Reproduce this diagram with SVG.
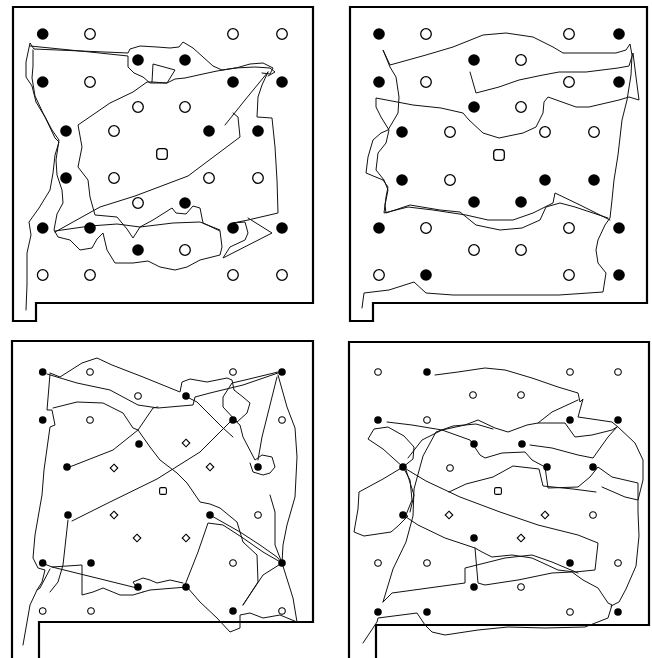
<svg xmlns="http://www.w3.org/2000/svg" xmlns:xlink="http://www.w3.org/1999/xlink" width="652" height="658" viewBox="0 0 652 658">
<style>
.frame{fill:none;stroke:#000;stroke-width:2.2;stroke-linejoin:miter}
.trace{fill:none;stroke:#111;stroke-width:1;stroke-linejoin:round;stroke-linecap:round}
.bf{fill:#000}
.bo{fill:#fff;stroke:#000;stroke-width:1.3}
.sf{fill:#000}
.so{fill:#fff;stroke:#000;stroke-width:1.1}
</style>
<defs>
<circle id="F" class="bf" r="5.8"/>
<circle id="O" class="bo" r="5.3"/>
<rect id="Q" class="bo" x="-5.3" y="-5.3" width="10.6" height="10.6" rx="3"/>
<circle id="f" class="sf" r="3.8"/>
<circle id="o" class="so" r="3.3"/>
<rect id="q" class="so" x="-3.4" y="-3.4" width="6.8" height="6.8" rx="1.5"/>
<path id="d" class="so" d="M0,-3.8 L3.8,0 L0,3.8 L-3.8,0 Z"/>
</defs>
<rect width="652" height="658" fill="#fff"/>

<!-- Panel 1 -->
<g id="panel1">
<path class="frame" d="M13,7 L313,7 L313,303 L36,303 L36,321 L13,321 Z"/>
<g id="p1-traces">
<path class="trace" d="M26,310 L27,285 L27,253 L31,235 L29,222 L39,208 L50,190 L53,173 L55,155 L59,142 L55,138 L45,117 L36,102 L32,86 L26,77 L26,62 L30,43 L34,49 L128,53 L130,49 L140,46 L157,47 L170,48 L179,47 L183,42 L193,48 L203,57 L213,66 L222,70 L236,68 L250,64 L263,63 L273,68 L270,74 L262,73"/>
<path class="trace" d="M33,50 L33,66 L32,78 L35,96 L43,113 L52,130 L59,140 L56,160 L57,175 L62,190 L63,203 L57,214 L54,230 L58,237 L70,240 L80,250 L92,248 L97,239 L103,233 L107,250 L115,263 L133,263 L148,261 L160,267 L175,270 L187,267 L200,260 L220,255 L222,247 L220,231 L203,223 L200,208 L193,206 L186,214 L176,213 L172,208 L153,220 L140,227 L133,238 L127,229 L117,217 L95,215 L90,197 L88,180 L78,167 L82,147 L78,125 L110,103 L133,92 L147,82 L152,82 L153,64 L175,70 L167,83 L152,82"/>
<path class="trace" d="M30,46 L90,52 L128,56 L128,67 L134,73 L143,77 L150,83 L167,83 L175,79 L185,78 L203,74 L217,71 L235,68 L255,67 L270,68 L275,72 L268,76"/>
<path class="trace" d="M55,232 L100,207 L135,196 L188,176 L240,137 L238,117 L233,113"/>
<path class="trace" d="M225,125 L245,100 L268,72"/>
<path class="trace" d="M268,72 L262,85 L258,97 L257,117 L272,118 L275,147 L277,180 L278,213 L248,220 L233,223 L245,222 L248,233 L245,240 L230,247 L223,258 L272,233 L248,218"/>
<path class="trace" d="M55,231 L90,226 L117,224 L140,227 L173,223 L200,222 L220,230"/>
</g>
<g id="p1-dots">
<use href="#F" x="42.7" y="34"/><use href="#O" x="90" y="34"/><use href="#O" x="233" y="34"/><use href="#O" x="282" y="34"/>
<use href="#F" x="138" y="60"/><use href="#F" x="185" y="60"/>
<use href="#F" x="42.7" y="82"/><use href="#O" x="90" y="82"/><use href="#F" x="233" y="82"/><use href="#F" x="282" y="82"/>
<use href="#O" x="138" y="107"/><use href="#O" x="185" y="107"/>
<use href="#F" x="66" y="131"/><use href="#O" x="114" y="131"/><use href="#F" x="209" y="131"/><use href="#F" x="258" y="131"/>
<use href="#Q" x="162" y="154"/>
<use href="#F" x="66" y="178"/><use href="#O" x="114" y="178"/><use href="#O" x="209" y="178"/><use href="#O" x="258" y="178"/>
<use href="#O" x="138" y="203"/><use href="#F" x="185" y="203"/>
<use href="#F" x="42.7" y="228"/><use href="#F" x="90" y="228"/><use href="#F" x="233" y="228"/><use href="#F" x="282" y="228"/>
<use href="#F" x="138" y="250"/><use href="#O" x="185" y="250"/>
<use href="#O" x="42.7" y="275"/><use href="#O" x="90" y="275"/><use href="#O" x="233" y="275"/><use href="#O" x="282" y="275"/>
</g>
</g>

<!-- Panel 2 -->
<g id="panel2">
<path class="frame" d="M350,7 L647,7 L647,303 L373,303 L373,321 L350,321 Z"/>
<g id="p2-traces">
<path class="trace" d="M362,308 L364,293 L389,290 L414,282 L426,293 L453,295 L513,295 L559,295 L603,292 L606,273 L598,263 L596,250 L598,240 L605,225 L610,218 L612,200 L614,180 L618,155 L622,120 L627,100 L631,75 L632,55 L630,44 L626,50 L616,53 L593,53 L563,53 L553,47 L533,37 L506,33 L483,35 L453,47 L426,55 L390,65 L383,50 L390,67 L396,77 L399,97 L398,113 L388,130 L381,133 L373,140 L368,157 L366,173 L383,180 L388,187 L386,197 L384,213 L408,207 L433,210 L466,215 L488,220 L513,220 L533,213 L553,203 L555,193 L580,205 L610,220"/>
<path class="trace" d="M470,72 L476,93 L499,87 L519,80 L543,75 L559,72 L586,72 L618,68 L629,66 L633,53 L636,77 L639,100 L629,97 L619,100 L589,107 L576,107 L548,97 L544,102 L543,113 L536,127 L523,133 L499,138 L483,133 L469,120 L463,113 L441,108 L413,105 L376,98 L376,107 L381,117 L389,130 L386,143 L378,153 L376,170 L384,180 L388,190 L385,205 L386,213 L410,205 L440,210 L460,212 L476,225 L500,230 L522,228 L540,220 L546,207 L560,203 L575,207 L608,218"/>
</g>
<g id="p2-dots">
<use href="#F" x="379" y="34"/><use href="#O" x="426" y="34"/><use href="#O" x="569" y="34"/><use href="#F" x="619" y="34"/>
<use href="#F" x="474" y="60"/><use href="#O" x="521" y="60"/>
<use href="#F" x="379" y="82"/><use href="#O" x="426" y="82"/><use href="#O" x="569" y="82"/><use href="#F" x="619" y="82"/>
<use href="#F" x="474" y="107"/><use href="#O" x="521" y="107"/>
<use href="#F" x="402" y="132"/><use href="#O" x="450" y="132"/><use href="#O" x="545" y="132"/><use href="#O" x="594" y="132"/>
<use href="#Q" x="499" y="155"/>
<use href="#F" x="402" y="180"/><use href="#O" x="450" y="180"/><use href="#F" x="545" y="180"/><use href="#F" x="594" y="180"/>
<use href="#F" x="474" y="202"/><use href="#F" x="521" y="202"/>
<use href="#F" x="379" y="228"/><use href="#O" x="426" y="228"/><use href="#O" x="569" y="228"/><use href="#F" x="619" y="228"/>
<use href="#O" x="474" y="250"/><use href="#O" x="521" y="250"/>
<use href="#O" x="379" y="275"/><use href="#F" x="426" y="275"/><use href="#O" x="569" y="275"/><use href="#F" x="619" y="275"/>
</g>
</g>

<!-- Panel 3 -->
<g id="panel3">
<path class="frame" d="M12,660 L12,341 L313,341 L313,622 L39,622 L39,660"/>
<g id="p3-traces">
<path class="trace" d="M50,373 L60,377 L82,363 L97,358 L112,365 L143,377 L180,392 L182,382 L190,379 L207,382 L227,378 L232,380 L234,390 L243,397 L250,403 L247,413 L237,422 L223,407 L223,397 L232,383 L245,380 L278,372"/>
<path class="trace" d="M47,374 L77,383 L110,390 L138,405 L158,408 L193,405 L195,397 L210,393 L243,385 L278,373"/>
<path class="trace" d="M50,374 L47,410 L52,410 L55,425 L50,427 L44,470 L42,495 L35,535 L33,558 L38,568 L45,570 L42,582 L37,590 L30,605 L23,645"/>
<path class="trace" d="M53,408 L77,402 L103,403 L123,413 L133,428 L138,430 L153,408 L158,407"/>
<path class="trace" d="M67,468 L113,450 L138,430 L150,447 L160,460 L177,473 L187,483 L200,502 L210,504 L220,508 L237,522 L243,542 L257,555 L258,582 L243,605"/>
<path class="trace" d="M72,521 L110,502 L157,479 L200,452 L233,419 L240,425 L243,437 L255,460 L262,455 L272,457 L275,467 L270,473 L263,475 L253,472 L250,463"/>
<path class="trace" d="M278,375 L287,407 L295,428 L297,457 L295,497 L287,525 L283,545 L282,563 L293,598 L297,622 L280,615 L263,618 L250,613 L240,615 L240,628 L230,632 L217,618 L200,602 L187,587 L150,590 L143,592"/>
<path class="trace" d="M277,377 L273,393 L267,417 L262,437 L258,460"/>
<path class="trace" d="M233,437 L223,428 L210,415 L197,402 L185,396"/>
<path class="trace" d="M185,585 L198,552 L208,523 L223,525 L243,538 L263,552 L282,563 L263,575 L243,605"/>
<path class="trace" d="M210,515 L240,532 L260,545 L277,557 L282,563"/>
<path class="trace" d="M68,520 L63,565 L58,582 L50,592 M42,563 L52,567 L82,565 L82,595 L93,592 L103,588 L120,595 L133,595 L143,592 M52,567 L137,588 M50,569 L40,588 L37,590"/>
<path class="trace" d="M270,495 L275,512 L275,545 L282,563"/>
<path class="trace" d="M137,588 L133,582 L143,578 L150,580 L157,583 L170,580 L183,583"/>
</g>
<g id="p3-dots">
<use href="#f" x="42.7" y="372"/><use href="#o" x="90" y="372"/><use href="#o" x="233" y="372"/><use href="#f" x="282" y="372"/>
<use href="#o" x="138" y="396"/><use href="#f" x="186" y="396"/>
<use href="#f" x="42.7" y="420"/><use href="#o" x="90" y="420"/><use href="#f" x="233" y="420"/><use href="#o" x="282" y="420"/>
<use href="#f" x="139" y="444"/><use href="#d" x="186" y="443"/>
<use href="#f" x="67" y="467"/><use href="#d" x="114" y="468"/><use href="#d" x="210" y="467"/><use href="#f" x="258" y="467"/>
<use href="#q" x="163" y="491"/>
<use href="#f" x="68" y="515"/><use href="#d" x="114" y="515"/><use href="#f" x="210" y="515"/><use href="#o" x="258" y="515"/>
<use href="#d" x="137" y="538"/><use href="#d" x="186" y="538"/>
<use href="#f" x="42.7" y="563"/><use href="#f" x="91" y="563"/><use href="#o" x="233" y="563"/><use href="#f" x="282" y="563"/>
<use href="#f" x="138" y="587"/><use href="#f" x="186" y="587"/>
<use href="#o" x="42.7" y="611"/><use href="#o" x="91" y="611"/><use href="#f" x="233" y="611"/><use href="#o" x="282" y="611"/>
</g>
</g>

<!-- Panel 4 -->
<g id="panel4">
<path class="frame" d="M349,660 L349,342 L649,342 L649,625 L376,625 L376,660"/>
<g id="p4-traces">
<path class="trace" d="M435,375 L458,372 L485,368 L505,370 L532,378 L558,387 L578,393 L580,402 L583,399 L578,417 L585,418 L612,422 L618,427 L635,443 L643,460 L643,480 L638,500 L638,512 L639,536 L636,566 L626,589 L619,602 L611,606"/>
<path class="trace" d="M403,467 L383,449 L368,439 L374,429 L388,427 L404,436 L414,447 L413,459 L403,467 L383,479 L359,492 L358,509 L354,532 L364,536 L391,532 L398,526 L408,516 L403,515"/>
<path class="trace" d="M403,515 L418,525 L445,538 L475,548 L482,552 L492,557 L512,555 L532,558 L558,570 L575,572 L595,570 L598,543 L578,535 L538,525 L500,512 L460,497 L426,481 L411,472 L403,467"/>
<path class="trace" d="M475,548 L478,583 L485,585 L518,580 L552,573 L572,572 L583,580 L598,588 L608,603 L612,605 L608,618 L585,627 L545,628 L508,627 L478,630 L445,635 L432,632 L425,625 L417,613 L378,618 L377,622 L363,643"/>
<path class="trace" d="M383,602 L392,593 L465,583 L465,568 L485,563 L505,558 L532,555 L552,562 L578,573"/>
<path class="trace" d="M383,602 L393,569 L406,542 L413,516 L414,489 L423,456 L436,432 L453,426 L476,424 L493,429"/>
<path class="trace" d="M387,422 L412,425 L442,430 L470,440 L480,455 L485,458 L502,453 L525,452 L532,460 L545,467 L548,488 L578,487 L590,477 L598,467 L612,477 L638,483 L638,500 L625,497 L602,487"/>
<path class="trace" d="M408,458 L422,440 L442,430 L465,425 L478,420 L495,428 L508,432 L527,425 L538,423 L565,423 L575,437 L592,435 L612,430 L617,427"/>
<path class="trace" d="M530,445 L552,448 L578,455 L593,458 L608,437 L617,427"/>
<path class="trace" d="M449,492 L466,484 L493,477 L513,466 L539,469 L543,486 L573,489 L596,492"/>
<path class="trace" d="M403,467 L410,480 L412,500 L406,515 M406,470 L414,495 L410,512"/>
<path class="trace" d="M578,400 L552,412 L538,423"/>
</g>
<g id="p4-dots">
<use href="#o" x="378" y="372"/><use href="#f" x="427" y="372"/><use href="#o" x="570" y="372"/><use href="#o" x="618" y="372"/>
<use href="#o" x="473" y="395"/><use href="#o" x="521" y="395"/>
<use href="#f" x="378" y="420"/><use href="#o" x="427" y="420"/><use href="#f" x="570" y="420"/><use href="#f" x="618" y="420"/>
<use href="#f" x="474" y="444"/><use href="#f" x="522" y="444"/>
<use href="#f" x="403" y="467"/><use href="#o" x="450" y="468"/><use href="#f" x="547" y="467"/><use href="#f" x="593" y="467"/>
<use href="#q" x="498" y="491"/>
<use href="#f" x="403" y="515"/><use href="#d" x="449" y="515"/><use href="#d" x="545" y="515"/><use href="#o" x="593" y="515"/>
<use href="#f" x="474" y="538"/><use href="#d" x="521" y="538"/>
<use href="#o" x="378" y="563"/><use href="#o" x="427" y="563"/><use href="#f" x="570" y="563"/><use href="#o" x="618" y="563"/>
<use href="#f" x="474" y="587"/><use href="#o" x="521" y="587"/>
<use href="#f" x="378" y="612"/><use href="#f" x="427" y="612"/><use href="#o" x="570" y="612"/><use href="#f" x="618" y="612"/>
</g>
</g>
</svg>
